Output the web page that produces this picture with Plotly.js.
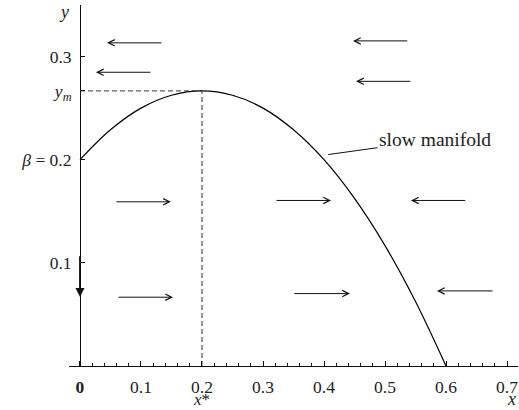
<!DOCTYPE html>
<html>
<head>
<meta charset="utf-8">
<script src="https://cdn.plot.ly/plotly-3.0.1.min.js"></script>
<style>html,body{margin:0;padding:0;background:#fff;}#chart{width:519px;height:410px;}</style>
</head>
<body>
<div id="chart"></div>
<script>
// Slow manifold curve
const manifoldX = [0, 0.05, 0.1, 0.15, 0.2, 0.25, 0.3, 0.35, 0.4, 0.45, 0.5, 0.55, 0.6];
const manifoldY = [0.2, 0.229, 0.25, 0.2625, 0.2667, 0.2625, 0.25, 0.229, 0.2, 0.1625, 0.1167, 0.0625, 0.0];
// Special point
const xStar = 0.2;
const yM = 0.2667;
// Tick labels
const xTickVals = [0, 0.1, 0.2, 0.3, 0.4, 0.5, 0.6, 0.7];
const xTickText = ['<b>0</b>', '0.1', '0.2', '0.3', '0.4', '0.5', '0.6', '0.7'];
const yTickVals = [0.1, 0.2, yM, 0.3];
const yTickText = ['0.1', '<i>β</i> = 0.2', '<i>y<sub>m</sub></i>', '0.3'];
// Direction-field arrows (tail -> head)
const arrowTailX = [0.136, 0.118, 0.539, 0.544, 0.0574, 0.0607, 0.3197, 0.634, 0.349, 0.6787];
const arrowTailY = [0.3133, 0.2848, 0.3152, 0.276, 0.1592, 0.0667, 0.1605, 0.1605, 0.0702, 0.0728];
const arrowHeadX = [0.0443, 0.0262, 0.4475, 0.4525, 0.149, 0.1525, 0.4115, 0.5426, 0.4426, 0.5852];
const arrowHeadY = [0.3133, 0.2848, 0.3152, 0.276, 0.1592, 0.0667, 0.1605, 0.1605, 0.0702, 0.0728];
// Vertical arrow on the y axis
const vArrowX = 0, vArrowTailY = 0.1078, vArrowHeadY = 0.067;
// Label for manifold
const manifoldLabel = 'slow manifold';
const manifoldLabelPoint = [0.407, 0.205];
const manifoldLabelPos = [0.582, 0.2194];

const FONT = '"Liberation Serif", "Times New Roman", serif';
const TXT = '#222';

const traces = [
  {x: manifoldX, y: manifoldY, mode: 'lines', line: {color: '#000', width: 1.2, shape: 'spline'}, hoverinfo: 'skip'},
  {x: [0, xStar], y: [yM, yM], mode: 'lines', line: {color: '#333', width: 1, dash: '5px,3px'}, hoverinfo: 'skip'},
  {x: [xStar, xStar], y: [0, yM], mode: 'lines', line: {color: '#333', width: 1, dash: '5px,3px'}, hoverinfo: 'skip'}
];

const annotations = [];
for (let i = 0; i < arrowTailX.length; i++) {
  annotations.push({
    x: arrowHeadX[i], y: arrowHeadY[i], ax: arrowTailX[i], ay: arrowTailY[i],
    xref: 'x', yref: 'y', axref: 'x', ayref: 'y', text: '', showarrow: true,
    arrowhead: 5, arrowsize: 1.25, arrowwidth: 1, arrowcolor: '#111', standoff: 0, startstandoff: 0
  });
}
annotations.push({
  x: vArrowX, y: vArrowHeadY, ax: vArrowX, ay: vArrowTailY,
  xref: 'x', yref: 'y', axref: 'x', ayref: 'y', text: '', showarrow: true,
  arrowhead: 2, arrowsize: 1, arrowwidth: 1.8, arrowcolor: '#111', standoff: 0
});
annotations.push({
  x: manifoldLabelPoint[0], y: manifoldLabelPoint[1], ax: manifoldLabelPos[0], ay: manifoldLabelPos[1],
  xref: 'x', yref: 'y', axref: 'x', ayref: 'y', text: manifoldLabel, showarrow: true,
  arrowhead: 0, arrowwidth: 1, arrowcolor: '#111', font: {family: FONT, size: 19.5, color: TXT}
});
annotations.push({x: xStar, y: 0, xref: 'x', yref: 'y', yanchor: 'middle', yshift: -33, text: '<i>x</i>*', showarrow: false, font: {family: FONT, size: 17, color: TXT}});
annotations.push({x: 1, y: 0, xref: 'paper', yref: 'y', xanchor: 'right', yanchor: 'middle', yshift: -33, xshift: 0, text: '<i>x</i>', showarrow: false, font: {family: FONT, size: 18, color: TXT}});
annotations.push({x: 0, y: 1, xref: 'x', yref: 'paper', xanchor: 'right', yanchor: 'middle', xshift: -9, yshift: -7, text: '<i>y</i>', showarrow: false, font: {family: FONT, size: 18, color: TXT}});

const layout = {
  width: 519, height: 410,
  margin: {l: 69, r: 1, t: 5, b: 44},
  paper_bgcolor: '#fff', plot_bgcolor: '#fff',
  showlegend: false,
  font: {family: FONT, size: 17, color: TXT},
  xaxis: {
    range: [-0.018, 0.718], showgrid: false, zeroline: false,
    showline: true, linecolor: '#111', linewidth: 1,
    ticks: 'inside', ticklen: 5, tickcolor: '#111', tickwidth: 1,
    tickmode: 'array', tickvals: xTickVals, ticktext: xTickText,
    tickfont: {family: FONT, size: 17.5, color: TXT},
    ticklabelstandoff: 5,
    minor: {tickmode: 'linear', tick0: 0, dtick: 0.02, ticks: 'inside', ticklen: 3, tickcolor: '#111', showgrid: false}
  },
  yaxis: {
    range: [0, 0.35], showgrid: false, zeroline: false,
    anchor: 'free', position: 0.0245,
    showline: true, linecolor: '#111', linewidth: 1,
    ticks: 'inside', ticklen: 4, tickcolor: '#111', tickwidth: 1,
    tickmode: 'array', tickvals: yTickVals, ticktext: yTickText,
    tickfont: {family: FONT, size: 17.5, color: TXT},
    ticklabelstandoff: 5
  },
  annotations: annotations
};

Plotly.newPlot('chart', traces, layout, {staticPlot: true});
</script>
</body>
</html>
